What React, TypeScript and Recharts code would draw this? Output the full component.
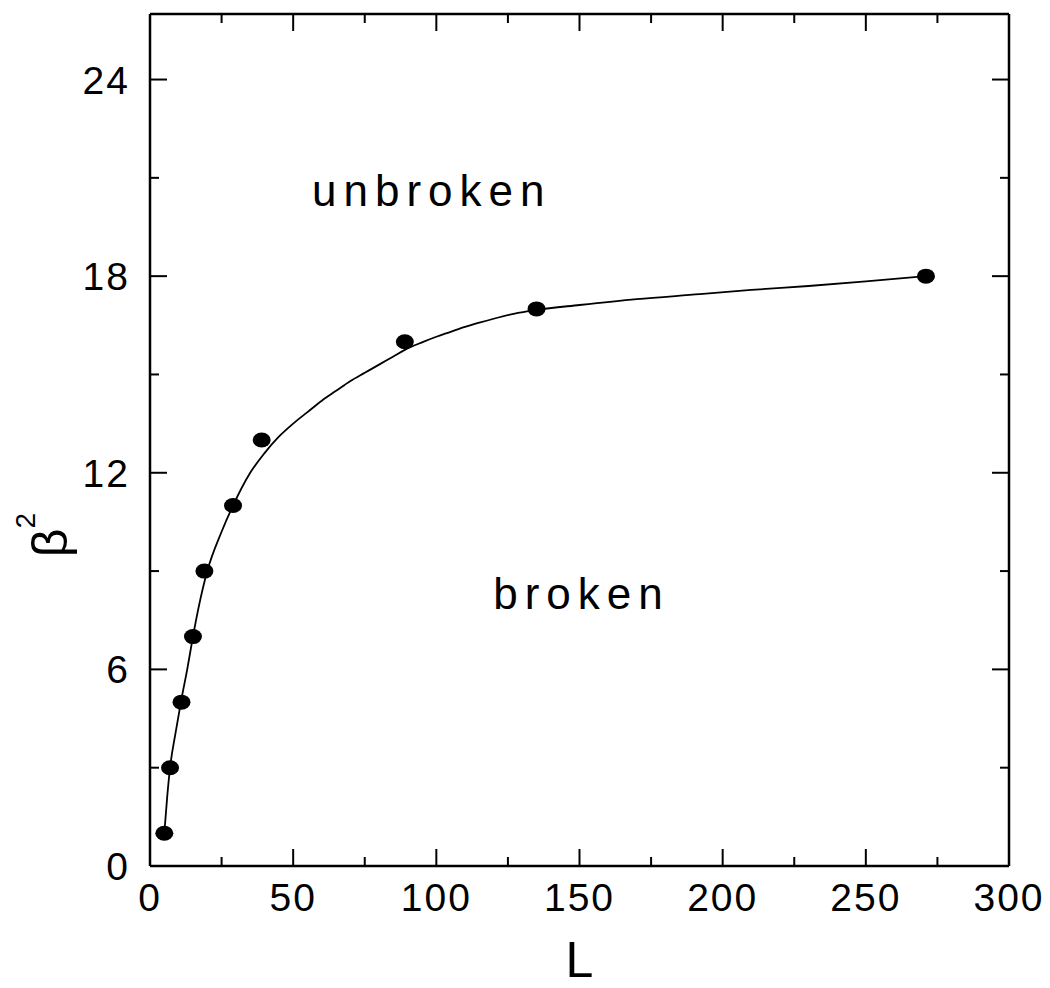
import { ComposedChart, Line, Scatter, XAxis, YAxis, ReferenceDot, Label } from 'recharts'

// measured points (L, beta^2)
const measuredL = [5, 7, 11, 15, 19, 29, 39, 89, 135, 271]
const measuredB2 = [1.0, 3.0, 5.0, 7.0, 9.0, 11.0, 13.0, 16.0, 17.0, 18.0]

// fitted curve
const fitL = [5, 6, 7, 9, 11, 13, 15, 17, 20, 25, 29, 35, 40, 45, 50, 55, 60, 65, 70, 75, 80, 85, 89, 95, 100, 105, 110, 115, 120, 127, 135, 150, 170, 192, 210, 230, 250, 271]
const fitB2 = [1.0, 2.1, 3.0, 4.1, 5.1, 6.0, 7.0, 7.9, 9.0, 10.2, 11.0, 12.0, 12.6, 13.1, 13.5, 13.85, 14.2, 14.5, 14.8, 15.05, 15.3, 15.55, 15.75, 15.98, 16.15, 16.3, 16.45, 16.58, 16.7, 16.85, 16.97, 17.12, 17.3, 17.45, 17.58, 17.7, 17.84, 18.0]

const xTicks = [0, 25, 50, 75, 100, 125, 150, 175, 200, 225, 250, 275, 300]
const xLabels = [0, 50, 100, 150, 200, 250, 300]
const yTicks = [0, 3, 6, 9, 12, 15, 18, 21, 24]
const yLabels = [0, 6, 12, 18, 24]

const points = measuredL.map((L, i) => ({ L, b2: measuredB2[i] }))
const fit = fitL.map((L, i) => ({ L, b2: fitB2[i] }))

const FONT = '"Liberation Sans", Arial, sans-serif'
const MAJOR = 17
const MINOR = 9

function tick(side: 'bottom' | 'top' | 'left' | 'right', labels: number[], showText: boolean) {
  return (props: any) => {
    const { x, y, payload } = props
    const v = payload.value
    const len = labels.includes(v) ? MAJOR : MINOR
    let line
    if (side === 'bottom') line = <line x1={x} y1={y} x2={x} y2={y - len} stroke="#000" strokeWidth={2} />
    else if (side === 'top') line = <line x1={x} y1={y} x2={x} y2={y + len} stroke="#000" strokeWidth={2} />
    else if (side === 'left') line = <line x1={x} y1={y} x2={x + len} y2={y} stroke="#000" strokeWidth={2} />
    else line = <line x1={x} y1={y} x2={x - len} y2={y} stroke="#000" strokeWidth={2} />
    let text = null
    if (showText && labels.includes(v)) {
      if (side === 'bottom')
        text = (
          <text x={x} y={y + 45} textAnchor="middle" fontSize={39} letterSpacing={2} fontFamily={FONT} fill="#000">
            {v}
          </text>
        )
      else
        text = (
          <text x={x - 20} y={y + 14} textAnchor="end" fontSize={39} letterSpacing={2} fontFamily={FONT} fill="#000">
            {v}
          </text>
        )
    }
    return (
      <g>
        {line}
        {text}
      </g>
    )
  }
}

const Dot = (props: any) => <ellipse cx={props.cx} cy={props.cy} rx={9} ry={7.5} fill="#000" />

const annot = (txt: string) => (props: any) => (
  <text x={props.cx} y={props.cy} textAnchor="middle" fontSize={44} letterSpacing={7} fontFamily={FONT} fill="#000">
    {txt}
  </text>
)

export default function App() {
  return (
    <div style={{ position: 'absolute', left: 0, top: 0, width: 1050, height: 988, background: '#fff' }}>
      <ComposedChart width={1050} height={988} margin={{ top: 0, right: 0, bottom: 0, left: 0 }}>
        <XAxis
          xAxisId="b"
          dataKey="L"
          type="number"
          domain={[0, 300]}
          ticks={xTicks}
          interval={0}
          height={122}
          tickSize={0}
          tickMargin={0}
          axisLine={{ stroke: '#000', strokeWidth: 2.5 }}
          tick={tick('bottom', xLabels, true)}
          allowDataOverflow
        >
          <Label
            content={(p: any) => (
              <text x={p.viewBox.x + p.viewBox.width / 2} y={977} textAnchor="middle" fontSize={50} fontFamily={FONT} fill="#000">
                L
              </text>
            )}
          />
        </XAxis>
        <XAxis
          xAxisId="t"
          orientation="top"
          dataKey="L"
          type="number"
          domain={[0, 300]}
          ticks={xTicks}
          interval={0}
          height={14}
          tickSize={0}
          tickMargin={0}
          axisLine={{ stroke: '#000', strokeWidth: 2.5 }}
          tick={tick('top', xLabels, false)}
          allowDataOverflow
        />
        <YAxis
          yAxisId="l"
          type="number"
          domain={[0, 26]}
          ticks={yTicks}
          interval={0}
          width={150}
          tickSize={0}
          tickMargin={0}
          axisLine={{ stroke: '#000', strokeWidth: 2.5 }}
          tick={tick('left', yLabels, true)}
          allowDataOverflow
        >
          <Label
            content={() => (
              <text transform="translate(67,535) rotate(-90)" textAnchor="middle" fontFamily={FONT} fill="#000">
                <tspan fontSize={50}>β</tspan>
                <tspan fontSize={28} dy={-32}>2</tspan>
              </text>
            )}
          />
        </YAxis>
        <YAxis
          yAxisId="r"
          orientation="right"
          type="number"
          domain={[0, 26]}
          ticks={yTicks}
          interval={0}
          width={41}
          tickSize={0}
          tickMargin={0}
          axisLine={{ stroke: '#000', strokeWidth: 2.5 }}
          tick={tick('right', yLabels, false)}
          allowDataOverflow
        />
        {/* invisible series so the mirror axes get ticks */}
        <Line
          xAxisId="t"
          yAxisId="r"
          data={fit}
          dataKey="b2"
          stroke="none"
          dot={false}
          activeDot={false}
          legendType="none"
          isAnimationActive={false}
        />
        <Line
          xAxisId="b"
          yAxisId="l"
          data={fit}
          dataKey="b2"
          type="monotone"
          stroke="#000"
          strokeWidth={1.8}
          dot={false}
          activeDot={false}
          isAnimationActive={false}
        />
        <Scatter xAxisId="b" yAxisId="l" data={points} dataKey="b2" shape={Dot} isAnimationActive={false} />
        <ReferenceDot xAxisId="b" yAxisId="l" x={98.4} y={20.14} r={0} shape={annot('unbroken')} />
        <ReferenceDot xAxisId="b" yAxisId="l" x={150.7} y={7.84} r={0} shape={annot('broken')} />
      </ComposedChart>
    </div>
  )
}
